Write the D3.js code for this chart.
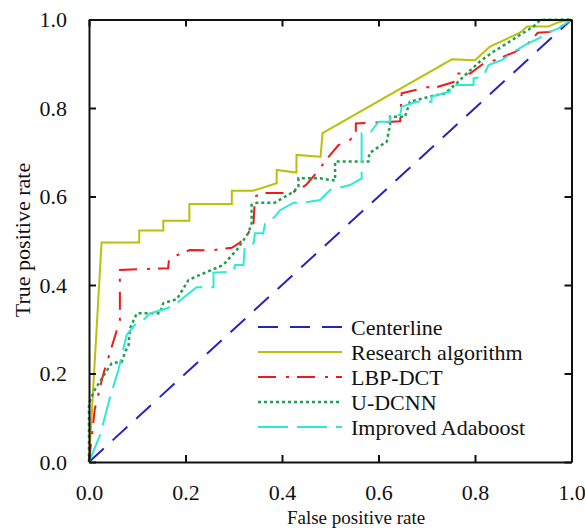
<!DOCTYPE html>
<html>
<head>
<meta charset="utf-8">
<script src="https://cdn.jsdelivr.net/npm/d3@7"></script>
<style>
  body { margin: 0; background: #fff; }
  text { font-family: "Liberation Serif", "Times New Roman", serif; fill: #111; }
</style>
</head>
<body>
<svg id="chart"></svg>
<script>
// ticks on both axes
const ticks = [0, 0.2, 0.4, 0.6, 0.8, 1.0];

// ROC curves, [false positive rate, true positive rate]
const centerline = [[0, 0], [1, 1]];
const research = [[0, 0], [0.026, 0.496], [0.104, 0.496], [0.104, 0.523], [0.154, 0.523], [0.154, 0.545],
  [0.208, 0.545], [0.208, 0.583], [0.296, 0.583], [0.296, 0.613], [0.34, 0.613], [0.389, 0.63],
  [0.389, 0.66], [0.43, 0.654], [0.43, 0.694], [0.48, 0.69], [0.484, 0.743], [0.752, 0.91],
  [0.8, 0.908], [0.831, 0.939], [0.879, 0.963], [0.893, 0.97], [0.908, 0.984], [0.952, 0.984],
  [0.971, 0.993], [1, 1]];
const lbpDct = [[0, 0], [0.012, 0.12], [0.03, 0.2], [0.064, 0.32], [0.064, 0.434], [0.164, 0.438],
  [0.166, 0.46], [0.209, 0.479], [0.25, 0.478], [0.296, 0.484], [0.313, 0.496], [0.33, 0.517],
  [0.341, 0.54], [0.344, 0.6], [0.36, 0.608], [0.42, 0.608], [0.45, 0.626], [0.47, 0.652],
  [0.497, 0.69], [0.517, 0.716], [0.541, 0.728], [0.553, 0.743], [0.553, 0.765], [0.645, 0.77],
  [0.648, 0.833], [0.7, 0.847], [0.72, 0.847], [0.76, 0.86], [0.762, 0.878], [0.79, 0.878],
  [0.817, 0.9], [0.841, 0.908], [0.883, 0.927], [0.907, 0.942], [0.93, 0.97], [0.955, 0.972],
  [0.98, 0.985], [1, 1]];
const uDcnn = [[0, 0], [0, 0.133], [0.012, 0.163], [0.033, 0.2], [0.047, 0.223], [0.068, 0.227],
  [0.075, 0.249], [0.082, 0.264], [0.085, 0.302], [0.099, 0.336], [0.147, 0.336], [0.154, 0.359],
  [0.182, 0.368], [0.206, 0.411], [0.23, 0.423], [0.278, 0.445], [0.306, 0.479], [0.33, 0.517],
  [0.337, 0.539], [0.337, 0.581], [0.348, 0.586], [0.385, 0.586], [0.424, 0.611], [0.434, 0.622],
  [0.434, 0.641], [0.479, 0.641], [0.51, 0.636], [0.51, 0.679], [0.579, 0.679], [0.581, 0.698],
  [0.617, 0.724], [0.624, 0.762], [0.624, 0.78], [0.655, 0.78], [0.665, 0.814], [0.707, 0.826],
  [0.738, 0.833], [0.765, 0.859], [0.783, 0.878], [0.81, 0.905], [0.838, 0.927], [0.866, 0.946],
  [0.893, 0.965], [0.921, 0.984], [0.935, 0.999], [1, 1]];
const adaboost = [[0, 0], [0.023, 0.061], [0.044, 0.148], [0.061, 0.208], [0.078, 0.287], [0.095, 0.31],
  [0.113, 0.321], [0.126, 0.336], [0.161, 0.347], [0.182, 0.359], [0.202, 0.377], [0.223, 0.395],
  [0.258, 0.395], [0.258, 0.428], [0.299, 0.43], [0.303, 0.445], [0.32, 0.445], [0.323, 0.487],
  [0.341, 0.494], [0.344, 0.517], [0.361, 0.517], [0.365, 0.539], [0.385, 0.554], [0.396, 0.569],
  [0.424, 0.586], [0.444, 0.586], [0.479, 0.592], [0.5, 0.615], [0.541, 0.626], [0.565, 0.641],
  [0.565, 0.743], [0.582, 0.743], [0.6, 0.769], [0.624, 0.769], [0.624, 0.784], [0.645, 0.784],
  [0.648, 0.803], [0.679, 0.814], [0.71, 0.814], [0.71, 0.826], [0.748, 0.837], [0.748, 0.852],
  [0.797, 0.852], [0.797, 0.867], [0.817, 0.871], [0.828, 0.897], [0.855, 0.908], [0.886, 0.931],
  [0.91, 0.946], [0.931, 0.957], [0.955, 0.972], [0.973, 0.98], [1, 1]];

const seriesNames = ['Centerline', 'Research algorithm', 'LBP-DCT', 'U-DCNN', 'Improved Adaboost'];
const seriesData = [centerline, research, lbpDct, uDcnn, adaboost];
const seriesColors = ['#2424c0', '#b9c10a', '#f01818', '#1fa04c', '#2cebd4'];
const seriesDash = ['20,12', null, '18,10,3,8', '3,3', '30,9'];
const seriesWidth = [2, 2, 2, 2.5, 2];

const W = 585, H = 528;
const margin = { top: 19.5, right: 13.5, bottom: 66, left: 89 };
const width = W - margin.left - margin.right;
const height = H - margin.top - margin.bottom;

const svg = d3.select('#chart')
    .attr('width', W)
    .attr('height', H);

const x = d3.scaleLinear().domain([0, 1]).range([0, width]);
const y = d3.scaleLinear().domain([0, 1]).range([height, 0]);

const g = svg.append('g')
    .attr('transform', `translate(${margin.left},${margin.top})`);

const fmt = d3.format('.1f');

// curves
const line = d3.line()
    .x(d => x(d[0]))
    .y(d => y(d[1]));

g.selectAll('.curve')
    .data(seriesData)
  .enter().append('path')
    .attr('class', 'curve')
    .attr('d', d => line(d))
    .attr('fill', 'none')
    .attr('stroke', (d, i) => seriesColors[i])
    .attr('stroke-width', (d, i) => seriesWidth[i])
    .attr('stroke-dasharray', (d, i) => seriesDash[i]);

// axes, ticks pointing inward
function styleAxis(sel) {
  sel.select('.domain').attr('stroke', '#111').attr('stroke-width', 2);
  sel.selectAll('.tick line').attr('stroke', '#111').attr('stroke-width', 2);
  sel.selectAll('.tick text').style('font-size', '22px').attr('fill', '#111');
}

g.append('g')
    .attr('transform', `translate(0,${height})`)
    .call(d3.axisBottom(x).tickValues(ticks).tickFormat(fmt).tickSizeInner(-7).tickSizeOuter(0).tickPadding(22))
    .call(styleAxis);

g.append('g')
    .call(d3.axisLeft(y).tickValues(ticks).tickFormat(fmt).tickSizeInner(-7).tickSizeOuter(0).tickPadding(22))
    .call(styleAxis);

g.append('g')
    .call(d3.axisTop(x).tickValues(ticks).tickFormat('').tickSizeInner(-7).tickSizeOuter(0))
    .call(styleAxis);

g.append('g')
    .attr('transform', `translate(${width},0)`)
    .call(d3.axisRight(y).tickValues(ticks).tickFormat('').tickSizeInner(-7).tickSizeOuter(0))
    .call(styleAxis);

// axis titles
svg.append('text')
    .attr('x', 356)
    .attr('y', 524)
    .attr('text-anchor', 'middle')
    .style('font-size', '19px')
    .text('False positive rate');

svg.append('text')
    .attr('transform', 'translate(30,240) rotate(-90)')
    .attr('text-anchor', 'middle')
    .style('font-size', '22px')
    .text('True positive rate');

// legend
const legend = svg.append('g')
    .attr('transform', 'translate(258,327)');

const item = legend.selectAll('.item')
    .data(seriesNames)
  .enter().append('g')
    .attr('class', 'item')
    .attr('transform', (d, i) => `translate(0,${i * 25})`);

item.append('line')
    .attr('x1', 0)
    .attr('x2', 84)
    .attr('stroke', (d, i) => seriesColors[i])
    .attr('stroke-width', (d, i) => seriesWidth[i])
    .attr('stroke-dasharray', (d, i) => seriesDash[i]);

item.append('text')
    .attr('x', 93)
    .attr('dy', '0.35em')
    .style('font-size', '22px')
    .text(d => d);
</script>
</body>
</html>
